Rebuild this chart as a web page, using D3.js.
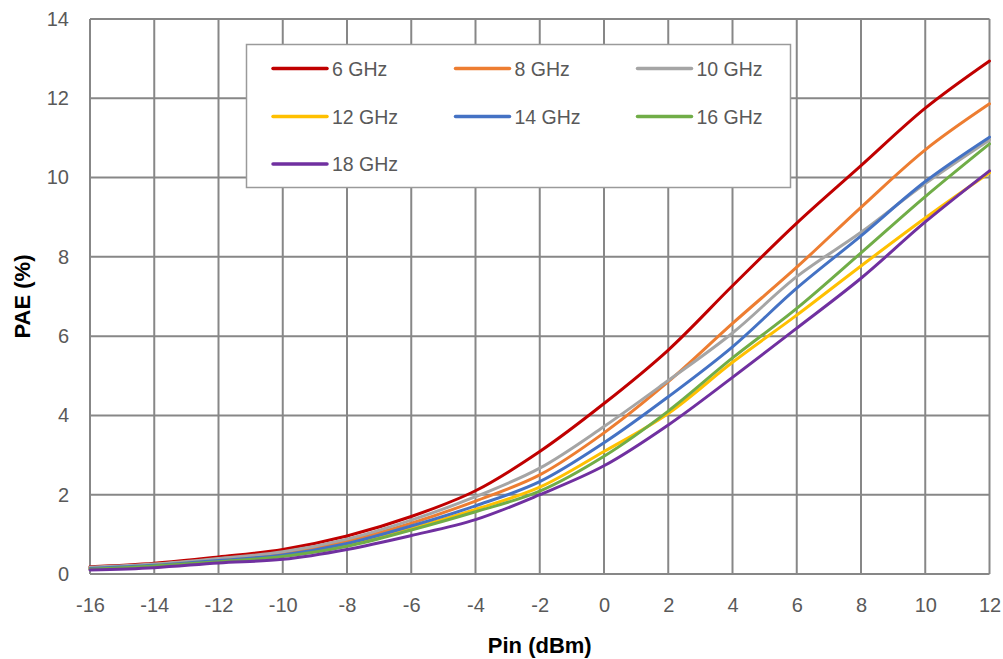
<!DOCTYPE html>
<html>
<head>
<meta charset="utf-8">
<script src="https://cdn.jsdelivr.net/npm/d3@7"></script>
<style>
  body { margin: 0; background: #fff; }
  text { font-family: "Liberation Sans", Arial, sans-serif; }
</style>
</head>
<body>
<svg id="chart"></svg>
<script>
// Pin (dBm) sample points
const pin = [-16, -14, -12, -10, -8, -6, -4, -2, 0, 2, 4, 6, 8, 10, 12];

// PAE (%) per frequency
const pae6 = [0.18, 0.27, 0.43, 0.62, 0.96, 1.45, 2.1, 3.09, 4.3, 5.65, 7.27, 8.85, 10.3, 11.75, 12.94];
const pae8 = [0.16, 0.24, 0.37, 0.53, 0.83, 1.28, 1.84, 2.5, 3.56, 4.85, 6.32, 7.74, 9.25, 10.7, 11.86];
const pae10 = [0.17, 0.25, 0.39, 0.56, 0.88, 1.36, 1.95, 2.67, 3.72, 4.88, 6.08, 7.5, 8.62, 9.85, 10.95];
const pae12 = [0.13, 0.21, 0.33, 0.46, 0.72, 1.15, 1.63, 2.19, 3.09, 4.05, 5.34, 6.53, 7.77, 8.98, 10.12];
const pae14 = [0.14, 0.22, 0.34, 0.48, 0.77, 1.21, 1.72, 2.33, 3.31, 4.47, 5.73, 7.21, 8.53, 9.9, 11.02];
const pae16 = [0.12, 0.2, 0.31, 0.44, 0.7, 1.11, 1.57, 2.09, 2.97, 4.11, 5.45, 6.7, 8.1, 9.52, 10.85];
const pae18 = [0.1, 0.16, 0.28, 0.37, 0.62, 0.97, 1.37, 2.0, 2.73, 3.76, 4.96, 6.2, 7.46, 8.88, 10.17];

const seriesNames = ["6 GHz", "8 GHz", "10 GHz", "12 GHz", "14 GHz", "16 GHz", "18 GHz"];
const seriesValues = [pae6, pae8, pae10, pae12, pae14, pae16, pae18];
const seriesColors = ["#C00000", "#ED7D31", "#A5A5A5", "#FFC000", "#4472C4", "#70AD47", "#7030A0"];

const xTicks = d3.range(-16, 13, 2);
const yTicks = d3.range(0, 15, 2);

const width = 1003;
const height = 659;
const marginTop = 19;
const marginRight = 13.5;
const marginBottom = 85;
const marginLeft = 90;
const gridColor = "#878787";
const labelColor = "#595959";

const svg = d3.select("#chart")
  .attr("width", width)
  .attr("height", height)
  .attr("viewBox", [0, 0, width, height]);

const x = d3.scaleLinear([-16, 12], [marginLeft, width - marginRight]);
const y = d3.scaleLinear([0, 14], [height - marginBottom, marginTop]);

// grid lines
svg.append("g")
  .selectAll("line")
  .data(xTicks)
  .join("line")
  .attr("x1", d => x(d)).attr("x2", d => x(d))
  .attr("y1", y(0)).attr("y2", y(14))
  .attr("stroke", gridColor)
  .attr("stroke-width", 2);

svg.append("g")
  .selectAll("line")
  .data(yTicks)
  .join("line")
  .attr("x1", x(-16)).attr("x2", x(12))
  .attr("y1", d => y(d)).attr("y2", d => y(d))
  .attr("stroke", gridColor)
  .attr("stroke-width", 2);

// x-axis labels (plain hyphen like the original)
svg.append("g")
  .attr("transform", `translate(0,${y(0)})`)
  .call(d3.axisBottom(x).tickValues(xTicks).tickFormat(d => String(d)).tickSize(0).tickPadding(24))
  .call(g => g.select(".domain").remove())
  .call(g => g.selectAll("text")
    .attr("fill", labelColor)
    .style("font-size", "20px")
    .style("font-family", "Liberation Sans, Arial, sans-serif"));

// y-axis labels
svg.append("g")
  .attr("transform", `translate(${x(-16)},0)`)
  .call(d3.axisLeft(y).tickValues(yTicks).tickFormat(d => String(d)).tickSize(0).tickPadding(21))
  .call(g => g.select(".domain").remove())
  .call(g => g.selectAll("text")
    .attr("fill", labelColor)
    .style("font-size", "20px")
    .style("font-family", "Liberation Sans, Arial, sans-serif"));

// axis titles
svg.append("text")
  .attr("x", (x(-16) + x(12)) / 2)
  .attr("y", 653)
  .attr("text-anchor", "middle")
  .attr("font-weight", "bold")
  .style("font-size", "22px")
  .attr("fill", "#000")
  .text("Pin (dBm)");

svg.append("text")
  .attr("transform", `translate(30,${(y(0) + y(14)) / 2}) rotate(-90)`)
  .attr("text-anchor", "middle")
  .attr("font-weight", "bold")
  .style("font-size", "22px")
  .attr("fill", "#000")
  .text("PAE (%)");

// curves
const line = d3.line()
  .x((d, i) => x(pin[i]))
  .y(d => y(d))
  .curve(d3.curveCatmullRom.alpha(0.5));

for (let i = 0; i < seriesValues.length; i++) {
  svg.append("path")
    .attr("fill", "none")
    .attr("stroke", seriesColors[i])
    .attr("stroke-width", 3)
    .attr("stroke-linecap", "round")
    .attr("d", line(seriesValues[i]));
}

// legend
const legend = svg.append("g");
legend.append("rect")
  .attr("x", 246.5).attr("y", 44.5)
  .attr("width", 544).attr("height", 143)
  .attr("fill", "#fff")
  .attr("stroke", "#9a9a9a")
  .attr("stroke-width", 1.5);

const colX = [273, 455.5, 637.5];
const rowY = [68.5, 116.5, 164];
for (let i = 0; i < seriesNames.length; i++) {
  const cx = colX[i % 3];
  const cy = rowY[Math.floor(i / 3)];
  legend.append("line")
    .attr("x1", cx).attr("x2", cx + 54)
    .attr("y1", cy).attr("y2", cy)
    .attr("stroke", seriesColors[i])
    .attr("stroke-width", 3.5)
    .attr("stroke-linecap", "round");
  legend.append("text")
    .attr("x", cx + 59)
    .attr("y", cy + 7)
    .attr("fill", labelColor)
    .style("font-size", "19.5px")
    .text(seriesNames[i]);
}
</script>
</body>
</html>
